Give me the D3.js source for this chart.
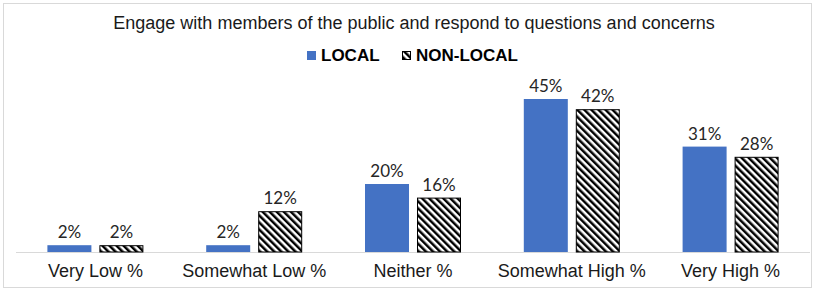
<!DOCTYPE html>
<html>
<head>
<meta charset="utf-8">
<script src="https://cdn.jsdelivr.net/npm/d3@7"></script>
<style>
  body { margin: 0; background: #fff; }
</style>
</head>
<body>
<div id="chart"></div>
<script>
var categories = ["Very Low %", "Somewhat Low %", "Neither %", "Somewhat High %", "Very High %"];
var series = ["LOCAL", "NON-LOCAL"];
var localValues = [2, 2, 20, 45, 31];
var nonLocalValues = [2, 12, 16, 42, 28];
var chartTitle = "Engage with members of the public and respond to questions and concerns";

var width = 815;
var height = 291;

var svg = d3.select("#chart").append("svg")
  .attr("width", width)
  .attr("height", height);

// stripes for the non-local bars
var defs = svg.append("defs");
defs.append("pattern")
  .attr("id", "stripes")
  .attr("patternUnits", "userSpaceOnUse")
  .attr("width", 5)
  .attr("height", 5)
  .attr("patternTransform", "rotate(-45)")
  .call(function(p){
    p.append("rect").attr("width", 5).attr("height", 5).attr("fill", "#fff");
    p.append("rect").attr("width", 2.5).attr("height", 5).attr("fill", "#000");
  });

// chart border
svg.append("rect")
  .attr("x", 3.5)
  .attr("y", 3.5)
  .attr("width", 808)
  .attr("height", 284)
  .attr("fill", "#fff")
  .attr("stroke", "#d9d9d9")
  .attr("stroke-width", 1);

svg.append("text")
  .attr("x", 414)
  .attr("y", 29)
  .attr("text-anchor", "middle")
  .attr("font-family", "Liberation Sans, Arial, sans-serif")
  .attr("font-size", "18px")
  .attr("fill", "#1a1a1a")
  .text(chartTitle);

var x0 = d3.scaleBand()
  .domain(categories)
  .range([16, 810]);

var x1 = d3.scaleBand()
  .domain(series)
  .range([-48, 48])
  .paddingInner(8 / 52);

var y = d3.scaleLinear()
  .domain([0, 50])
  .range([252, 82]);

var fills = {"LOCAL": "#4472c4", "NON-LOCAL": "url(#stripes)"};

var data = categories.map(function(c, i){
  return {cat: c, values: [
    {key: "LOCAL", value: localValues[i]},
    {key: "NON-LOCAL", value: nonLocalValues[i]}
  ]};
});

// axis line
svg.append("line")
  .attr("x1", x0.range()[0])
  .attr("x2", x0.range()[1])
  .attr("y1", y(0) + 0.5)
  .attr("y2", y(0) + 0.5)
  .attr("stroke", "#d9d9d9")
  .attr("stroke-width", 1);

var groups = svg.selectAll(".cat")
  .data(data)
  .enter()
  .append("g")
  .attr("class", "cat")
  .attr("transform", function(d){ return "translate(" + (x0(d.cat) + x0.bandwidth() / 2) + ",0)"; });

groups.selectAll("rect")
  .data(function(d){ return d.values; })
  .enter()
  .append("rect")
  .attr("x", function(d){ return x1(d.key) + (d.key == "NON-LOCAL" ? 0.5 : 0); })
  .attr("y", function(d){ return y(d.value) + (d.key == "NON-LOCAL" ? 0.5 : 0); })
  .attr("width", function(d){ return x1.bandwidth() - (d.key == "NON-LOCAL" ? 1 : 0); })
  .attr("height", function(d){ return y(0) - y(d.value) - (d.key == "NON-LOCAL" ? 0.5 : 0); })
  .attr("fill", function(d){ return fills[d.key]; })
  .attr("stroke", function(d){ return d.key == "NON-LOCAL" ? "#000" : "none"; })
  .attr("stroke-width", 1);

groups.selectAll(".val")
  .data(function(d){ return d.values; })
  .enter()
  .append("text")
  .attr("class", "val")
  .attr("x", function(d){ return x1(d.key) + x1.bandwidth() / 2; })
  .attr("y", function(d){ return y(d.value) - 7; })
  .attr("text-anchor", "middle")
  .attr("font-family", "Lato, sans-serif")
  .attr("font-size", "17px")
  .attr("fill", "#262626")
  .text(function(d){ return d.value + "%"; });

groups.append("text")
  .attr("y", 277)
  .attr("text-anchor", "middle")
  .attr("font-family", "Liberation Sans, Arial, sans-serif")
  .attr("font-size", "18px")
  .attr("fill", "#1a1a1a")
  .text(function(d){ return d.cat; });

// legend
var legendX = [307, 402];
var legend = svg.selectAll(".legend")
  .data(series)
  .enter()
  .append("g")
  .attr("class", "legend")
  .attr("transform", function(d, i){ return "translate(" + legendX[i] + ",51)"; });

legend.append("rect")
  .attr("x", function(d){ return d == "NON-LOCAL" ? 0.5 : 0; })
  .attr("y", function(d){ return d == "NON-LOCAL" ? 0.5 : 0; })
  .attr("width", function(d){ return d == "NON-LOCAL" ? 8 : 9; })
  .attr("height", function(d){ return d == "NON-LOCAL" ? 8 : 9; })
  .attr("fill", function(d){ return fills[d]; })
  .attr("stroke", function(d){ return d == "NON-LOCAL" ? "#000" : "none"; });

legend.append("text")
  .attr("x", 14)
  .attr("y", 9.5)
  .attr("font-family", "Liberation Sans, Arial, sans-serif")
  .attr("font-weight", "bold")
  .attr("font-size", "17px")
  .attr("fill", "#000")
  .text(function(d){ return d; });
</script>
</body>
</html>
